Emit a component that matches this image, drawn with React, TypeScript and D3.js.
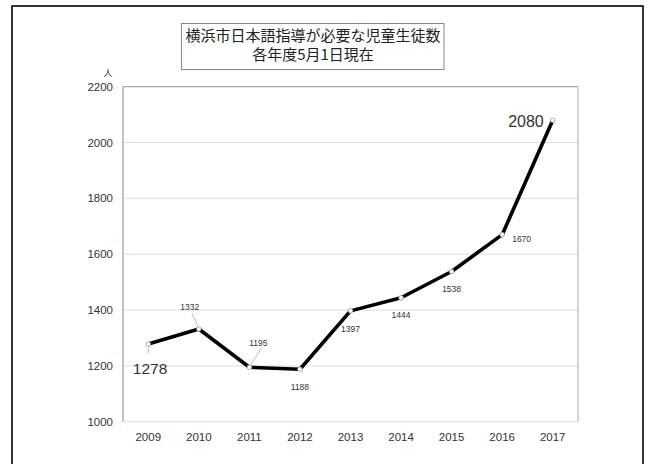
import React from "react";
import * as d3 from "d3";

const years = ["2009", "2010", "2011", "2012", "2013", "2014", "2015", "2016", "2017"];
const students = [1278, 1332, 1195, 1188, 1397, 1444, 1538, 1670, 2080];
const yTicks = [1000, 1200, 1400, 1600, 1800, 2000, 2200];
const titleLines = ["横浜市日本語指導が必要な児童生徒数", "各年度5月1日現在"];
const yUnit = "人";

// label placement (style, not data)
const labelStyle = [
  { dx: -15.5, dy: 30, anchor: "start", size: 15.5, leader: [0, 2, 0, 9] },
  { dx: -9, dy: -22, anchor: "middle", size: 8.5, leader: [-7, -16, -1, -3] },
  { dx: 9, dy: -24, anchor: "middle", size: 8.5, leader: [12, -19, 1, -2] },
  { dx: 0, dy: 18, anchor: "middle", size: 8.5, leader: null },
  { dx: 0, dy: 18, anchor: "middle", size: 8.5, leader: null },
  { dx: 0, dy: 17, anchor: "middle", size: 8.5, leader: null },
  { dx: 0, dy: 17, anchor: "middle", size: 8.5, leader: null },
  { dx: 10, dy: 4, anchor: "start", size: 8.5, leader: null },
  { dx: -9, dy: 6.5, anchor: "end", size: 16, leader: null },
];

export default function App() {
  const W = 649, H = 464;
  const left = 123, right = 578, top = 86.7, bottom = 421.7;
  const x = d3.scaleBand().domain(years).range([left, right]);
  const y = d3.scaleLinear().domain([1000, 2200]).range([bottom, top]);
  const cx = (yr: string) => (x(yr) as number) + x.bandwidth() / 2;
  const line = d3
    .line<number>()
    .x((_, i) => cx(years[i]))
    .y((v) => y(v));
  const font = "'Liberation Sans', Arial, sans-serif";
  return (
    <div style={{ position: "absolute", left: 0, top: 0 }}>
      <svg width={W} height={H} style={{ display: "block", background: "#fff" }}>
        <rect x={12} y={6} width={631} height={470} fill="#fff" stroke="#000" strokeWidth={1.6} />
        {/* title */}
        <rect x={181.5} y={23.5} width={262.5} height={46} fill="#fff" stroke="#888" strokeWidth={1} />
        {titleLines.map((t, i) => (
          <text
            key={i}
            x={313}
            y={34 + i * 19.5}
            textAnchor="middle"
            dominantBaseline="central"
            fontFamily="'Noto Sans CJK JP', sans-serif"
            fontSize={15}
            fill="#222"
          >
            {t}
          </text>
        ))}
        {/* gridlines */}
        {yTicks.map((t) => (
          <line key={t} x1={left} x2={right} y1={y(t)} y2={y(t)} stroke="#dedede" strokeWidth={1} />
        ))}
        <line x1={left} x2={right} y1={top} y2={top} stroke="#999" strokeWidth={1} />
        <line x1={left} x2={left} y1={top} y2={bottom} stroke="#999" strokeWidth={1.2} />
        <line x1={right} x2={right} y1={top} y2={bottom} stroke="#aaa" strokeWidth={1} />
        {/* y labels */}
        {yTicks.map((t) => (
          <text key={t} x={113} y={y(t)} textAnchor="end" dominantBaseline="central" fontFamily={font} fontSize={11.5} fill="#333">
            {t}
          </text>
        ))}
        <text x={108} y={72} textAnchor="middle" dominantBaseline="central" fontFamily="'Noto Sans CJK JP', sans-serif" fontSize={9} fill="#333">
          {yUnit}
        </text>
        {/* x labels */}
        {years.map((yr) => (
          <text key={yr} x={cx(yr)} y={437} textAnchor="middle" dominantBaseline="central" fontFamily={font} fontSize={11.5} fill="#333">
            {yr}
          </text>
        ))}
        {/* leaders */}
        {students.map((v, i) => {
          const l = labelStyle[i].leader;
          if (!l) return null;
          const px = cx(years[i]), py = y(v);
          return <line key={"ld" + i} x1={px + l[0]} y1={py + l[1]} x2={px + l[2]} y2={py + l[3]} stroke="#bbb" strokeWidth={1} />;
        })}
        {/* line */}
        <path d={line(students) || ""} fill="none" stroke="#000" strokeWidth={3.6} strokeLinejoin="round" />
        {students.map((v, i) => (
          <circle key={"c" + i} cx={cx(years[i])} cy={y(v)} r={2.3} fill="#fff" stroke="#999" strokeWidth={0.8} />
        ))}
        {/* data labels */}
        {students.map((v, i) => {
          const s = labelStyle[i];
          return (
            <text
              key={"l" + i}
              x={cx(years[i]) + s.dx}
              y={y(v) + s.dy}
              textAnchor={s.anchor as any}
              dominantBaseline={s.size > 10 ? "auto" : "central"}
              fontFamily={font}
              fontSize={s.size}
              fill="#333"
            >
              {v}
            </text>
          );
        })}
      </svg>
    </div>
  );
}
